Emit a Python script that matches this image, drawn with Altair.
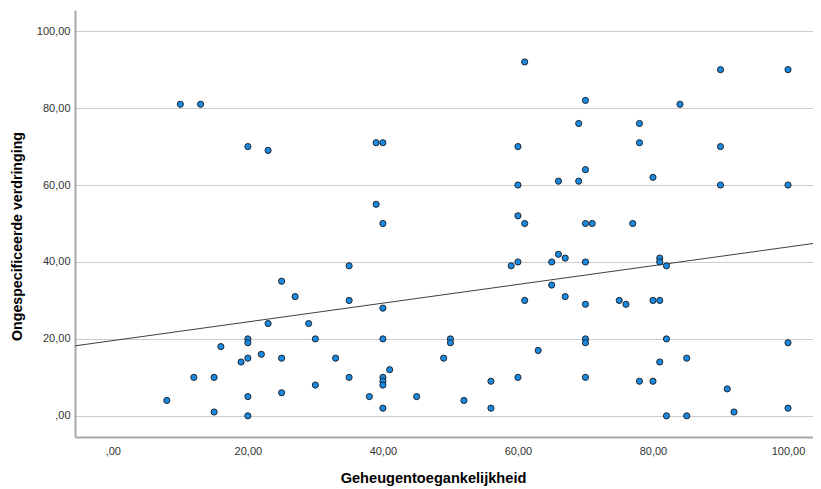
import altair as alt
import pandas as pd

# Geheugentoegankelijkheid (x) and Ongespecificeerde verdringing (y)
toegankelijkheid = [
    10, 13, 20, 23,
    25, 27, 23, 29, 20, 20, 30, 16, 22, 20, 25, 19, 12, 15, 30, 25, 20, 8, 15, 20,
    40, 61, 35, 59, 60, 65, 66, 67, 35, 40, 65, 61, 67, 40, 50, 50, 33, 49, 63,
    35, 40, 40, 40, 41, 60, 56, 38, 45, 52, 40, 56,
    61, 39, 40, 60, 69, 60, 66, 69, 39, 60,
    70, 71, 77, 70, 81, 81, 82, 70, 75, 76, 80, 81, 70, 70, 82, 100, 85, 81,
    70, 78, 80, 91, 82, 85, 92, 100,
    70, 84, 90, 100, 78, 78, 90, 70, 80, 90, 100,
]
verdringing = [
    81, 81, 70, 69,
    35, 31, 24, 24, 20, 19, 20, 18, 16, 15, 15, 14, 10, 10, 8, 6, 5, 4, 1, 0,
    50, 50, 39, 39, 40, 40, 42, 41, 30, 28, 34, 30, 31, 20, 20, 19, 15, 15, 17,
    10, 10, 9, 8, 12, 10, 9, 5, 5, 4, 2, 2,
    92, 71, 71, 70, 76, 60, 61, 61, 55, 52,
    50, 50, 50, 40, 41, 40, 39, 29, 30, 29, 30, 30, 20, 19, 20, 19, 15, 14,
    10, 9, 9, 7, 0, 0, 1, 2,
    82, 81, 90, 90, 76, 71, 70, 64, 62, 60, 60,
]

df = pd.DataFrame({"x": toegankelijkheid, "y": verdringing})

x_domain = [-5.6, 103.7]
y_domain = [-5.5, 105.5]
font = "Liberation Sans"
label_expr = "datum.value == 0 ? ',00' : replace(format(datum.value, '.2f'), '.', ',')"

base = alt.Chart(df)

points = base.mark_point(
    filled=True,
    shape="circle",
    size=38,
    fill="#1a8ae0",
    stroke="#1e2530",
    strokeWidth=1,
    opacity=1,
).encode(
    x=alt.X(
        "x:Q",
        scale=alt.Scale(domain=x_domain, nice=False, zero=False),
        axis=alt.Axis(
            title="Geheugentoegankelijkheid",
            values=[0, 20, 40, 60, 80, 100],
            labelExpr=label_expr,
            grid=False,
            ticks=False,
            domainColor="#a8a8a8",
            domainWidth=2,
            labelPadding=8,
            labelFontSize=11,
            labelColor="#333333",
            labelFont=font,
            titleFont=font,
            titleFontSize=14.6,
            titleFontWeight="bold",
            titleColor="#000000",
            titleX=358,
            titleY=45,
            titleBaseline="alphabetic",
        ),
    ),
    y=alt.Y(
        "y:Q",
        scale=alt.Scale(domain=y_domain, nice=False, zero=False),
        axis=alt.Axis(
            title="Ongespecificeerde verdringing",
            values=[0, 20, 40, 60, 80, 100],
            labelExpr=label_expr,
            grid=True,
            gridColor="#cccccc",
            gridWidth=1,
            ticks=False,
            domainColor="#a8a8a8",
            domainWidth=2,
            labelPadding=5,
            labelFontSize=11,
            labelColor="#333333",
            labelFont=font,
            titleFont=font,
            titleFontSize=14.2,
            titleFontWeight="bold",
            titleColor="#000000",
            titleX=-58,
            titleY=226,
            titleAlign="center",
            titleBaseline="middle",
        ),
    ),
)

fit = base.transform_regression(
    "x", "y", extent=x_domain
).mark_line(color="#404040", strokeWidth=1).encode(
    x="x:Q",
    y="y:Q",
)

chart = alt.layer(fit, points).properties(
    width=738,
    height=427,
    padding={"left": 67, "top": 2, "right": 0, "bottom": 51},
    autosize=alt.AutoSizeParams(type="none"),
).configure_view(stroke=None)

chart.save("out.html", embed_options={"renderer": "svg", "actions": False})
